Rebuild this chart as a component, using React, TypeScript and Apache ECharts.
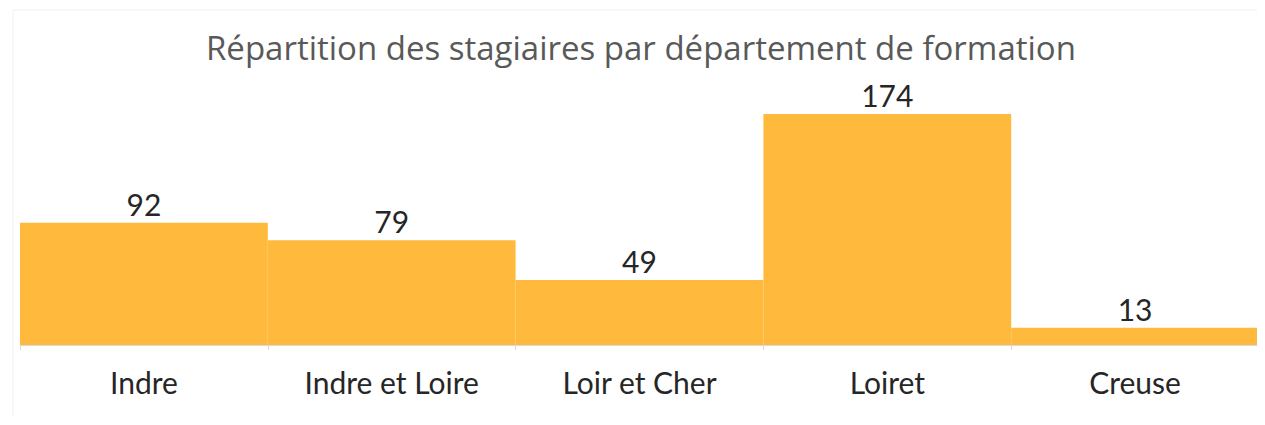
import React, { useEffect, useRef } from "react";
import * as echarts from "echarts";

const categories = ["Indre", "Indre et Loire", "Loir et Cher", "Loiret", "Creuse"];
const values = [92, 79, 49, 174, 13];
const titleText = "Répartition des stagiaires par département de formation";

export default function App() {
  const ref = useRef<HTMLDivElement>(null);
  useEffect(() => {
    if (!ref.current) return;
    const chart = echarts.init(ref.current, null, { renderer: "svg" });
    chart.setOption({
      animation: false,
      backgroundColor: "#ffffff",
      title: {
        text: titleText,
        left: 201,
        top: 26,
        textStyle: {
          fontFamily: "Open Sans",
          fontSize: 33,
          fontWeight: "normal",
          color: "#595959",
        },
      },
      graphic: [
        {
          type: "rect",
          shape: { x: 13, y: 10, width: 1260, height: 420 },
          style: { fill: "none", stroke: "#f0f0f0", lineWidth: 1 },
          silent: true,
        },
      ],
      grid: { left: 20, right: 6, top: 79.5, bottom: 80 },
      xAxis: {
        type: "category",
        data: categories,
        axisLine: { lineStyle: { color: "#d9d9d9", width: 1 } },
        axisTick: { show: true, length: 5, lineStyle: { color: "#d9d9d9" } },
        axisLabel: {
          fontFamily: "Lato",
          fontSize: 30,
          color: "#262626",
          margin: 22,
          interval: 0,
        },
      },
      yAxis: {
        type: "value",
        min: 0,
        max: 200,
        show: false,
        splitLine: { show: false },
      },
      series: [
        {
          type: "bar",
          data: values,
          barCategoryGap: "0%",
          itemStyle: { color: "#FFB93C" },
          label: {
            show: true,
            position: "top",
            distance: 4,
            fontFamily: "Lato",
            fontSize: 30,
            color: "#262626",
          },
        },
      ],
    });
    return () => chart.dispose();
  }, []);
  return <div ref={ref} style={{ width: 1265, height: 425, margin: -8 }} />;
}
